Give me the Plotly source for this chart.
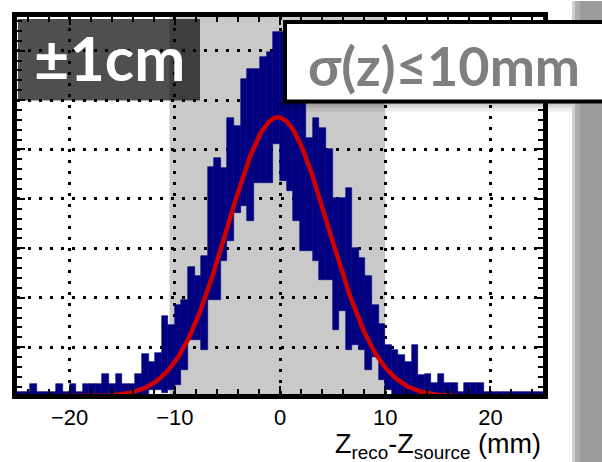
import math
import plotly.graph_objects as go

# ---------------- data ----------------
bin_start = -25.0          # mm, left edge of first bin
bin_width = 0.625          # mm
# upper edge of the blue band per bin
hist_high = [0.9, 0.9, 2.6, 0.9, 0.9, 0.9, 2.6, 0.9, 2.6, 0.9,
             2.6, 2.6, 2.6, 4.6, 2.6, 4.6, 2.6, 2.6, 4.6, 8.6,
             7.0, 8.8, 16.4, 14.4, 18.5, 19.5, 26.3, 24.5, 28.5, 46.4,
             48.2, 46.2, 56.3, 54.7, 64.3, 66.3, 66.3, 68.8, 69.8, 73.8,
             73.8, 67.7, 61.7, 59.7, 52.3, 56.3, 54.3, 50.2, 40.2, 40.2,
             42.2, 30.1, 28.1, 24.5, 18.5, 14.8, 10.4, 9.4, 8.4, 7.0,
             10.4, 4.4, 4.6, 2.8, 4.6, 2.8, 2.8, 0.9, 2.8, 2.8,
             2.8, 0.9, 0.9, 0.9, 0.9, 0.9, 0.9, 0.9, 0.9, 0.9]
# lower edge of the blue band per bin
hist_low = [0, 0, 0, 0, 0, 0, 0, 0, 0, 0,
            0, 0, 0, 0, 0, 0, 0, 0, 0, 0,
            1.3, 1.3, 0.7, 1.3, 2.4, 5.4, 11.4, 11.4, 9.4, 19.5,
            19.5, 27.5, 31.5, 37.2, 38.6, 35.6, 43.2, 43.2, 43.2, 51.2,
            43.6, 41.6, 35.6, 29.5, 29.5, 27.5, 23.5, 23.5, 13.4, 17.4,
            9.4, 10.4, 9.4, 5.4, 8.0, 3.4, 1.3, 0, 0, 0,
            0, 0, 0, 0, 0, 0, 0, 0, 0, 0,
            0, 0, 0, 0, 0, 0, 0, 0, 0, 0]
# gaussian fit parameters
fit_amp = 56.5
fit_mean = -0.2
fit_sigma = 4.8
# accepted window (grey band), mm
window = [-10.5, 10.0]

x_ticks = [-20, -10, 0, 10, 20]

# ---------------- figure ----------------
centers = [bin_start + bin_width * (i + 0.5) for i in range(len(hist_high))]
heights = [h - l for h, l in zip(hist_high, hist_low)]

fig = go.Figure()
fig.add_trace(go.Bar(x=centers, y=heights, base=hist_low, width=bin_width,
                     marker=dict(color="#000080", line=dict(color="#000080", width=0.6)),
                     hoverinfo="skip"))

fx = [-25 + 0.1 * i for i in range(501)]
fy = [fit_amp * math.exp(-((v - fit_mean) ** 2) / (2 * fit_sigma ** 2)) for v in fx]
fig.add_trace(go.Scatter(x=fx, y=fy, mode="lines",
                         line=dict(color="#d00000", width=4.5), hoverinfo="skip"))

L, R, T, B = 17, 543, 15, 394
def pxx(p):
    return (p - L) / (R - L)
def pxy(p):
    return (B - p) / (B - T)

shapes = []
# grey acceptance band
shapes.append(dict(type="rect", xref="x", yref="paper", x0=window[0], x1=window[1], y0=0, y1=1,
                   fillcolor="#c9c9c9", line=dict(width=0), layer="below"))
# dark translucent label box
shapes.append(dict(type="rect", xref="paper", yref="paper", x0=pxx(18), x1=pxx(200),
                   y0=pxy(99), y1=pxy(17), fillcolor="rgba(0,0,0,0.69)",
                   line=dict(width=0), layer="above"))
# shadow below the sigma box
for (a, b, op) in [(100, 103, 0.28), (103, 106, 0.16), (106, 110, 0.07)]:
    shapes.append(dict(type="rect", xref="paper", yref="paper", x0=pxx(278), x1=pxx(604),
                       y0=pxy(b), y1=pxy(a), fillcolor="rgba(0,0,0,%.2f)" % op,
                       line=dict(width=0), layer="above"))
# right grey strip
for (a, b, col) in [(572, 575, "#cfcfcf"), (575, 580, "#adadad"), (580, 603, "#9b9b9b")]:
    shapes.append(dict(type="rect", xref="paper", yref="paper", x0=pxx(a), x1=pxx(b),
                       y0=pxy(463), y1=pxy(-1), fillcolor=col, line=dict(width=0), layer="above"))
# sigma box
shapes.append(dict(type="rect", xref="paper", yref="paper", x0=pxx(285), x1=pxx(606),
                   y0=pxy(100), y1=pxy(20), fillcolor="white",
                   line=dict(color="black", width=4), layer="above"))

annotations = [
    dict(text="<b>±1cm</b>", xref="paper", yref="paper", x=pxx(109), y=pxy(56),
         xanchor="center", yanchor="middle", showarrow=False,
         font=dict(family="Lato", size=61, color="white")),
    dict(text="<b>σ(z)≤10mm</b>", xref="paper", yref="paper", x=pxx(444), y=pxy(64),
         xanchor="center", yanchor="middle", showarrow=False,
         font=dict(family="Lato", size=54, color="#7f7f7f")),
    dict(text="Z<sub>reco</sub>-Z<sub>source</sub> (mm)", xref="paper", yref="paper",
         x=pxx(543), y=pxy(446), xanchor="right", yanchor="middle", showarrow=False,
         font=dict(family="Liberation Sans", size=27, color="black")),
]

grid = dict(showgrid=True, gridcolor="black", gridwidth=3, griddash="3px,8px",
            zeroline=False, showline=True, linecolor="black", linewidth=5,
            mirror="allticks", ticks="inside", ticklen=8, tickwidth=2, tickcolor="black")

fig.update_layout(width=602, height=462, margin=dict(l=L, r=602 - R, t=T, b=462 - B),
                  plot_bgcolor="white", paper_bgcolor="white", showlegend=False,
                  bargap=0, shapes=shapes, annotations=annotations)
fig.update_xaxes(range=[-25, 25], tickvals=x_ticks, **grid,
                 tickfont=dict(family="Liberation Sans", size=22, color="black"),
                 minor=dict(dtick=2, tick0=0, ticks="inside", ticklen=5, tickwidth=2,
                            tickcolor="black", showgrid=False))
fig.update_yaxes(range=[0.54, 76.8], dtick=10, tick0=0, showticklabels=False, **grid,
                 minor=dict(dtick=2, tick0=0, ticks="inside", ticklen=5, tickwidth=2,
                            tickcolor="black", showgrid=False))

fig.write_html("out.html", config={"displayModeBar": False},
               post_script="document.body.style.margin='0';document.body.style.overflow='hidden';")
